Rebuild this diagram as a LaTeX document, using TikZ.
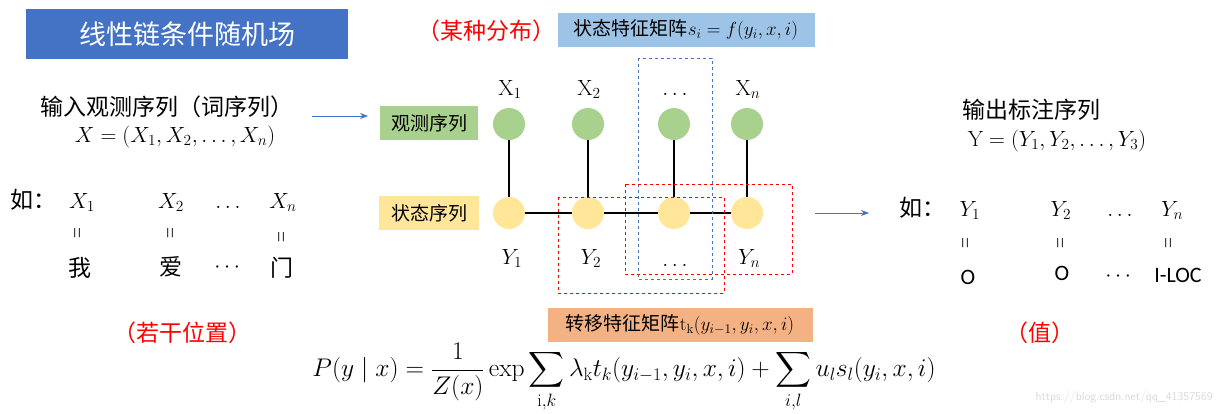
\RequirePackage{fix-cm}
\documentclass[tikz,border=0pt]{standalone}
\usepackage{fontspec}
\usepackage{amsmath}
\newfontfamily\cjk{Noto Sans CJK SC}
\newfontfamily\cali{Carlito}
\usetikzlibrary{arrows.meta}
\definecolor{tblue}{HTML}{4472C4}
\definecolor{lblue}{HTML}{9DC3E6}
\definecolor{lgreen}{HTML}{A9D18E}
\definecolor{lyellow}{HTML}{FFE699}
\definecolor{lorange}{HTML}{F4B183}
\definecolor{wm}{HTML}{D9D9D9}
\newcommand{\veq}{\scalebox{0.75}[1.3]{$=$}}
\tikzset{
  cjkbig/.style={font=\cjk\fontsize{23}{27}\selectfont, inner sep=0pt},
  cjkmid/.style={font=\cjk\fontsize{19}{22}\selectfont, inner sep=0pt},
  redlab/.style={font=\cjk\fontsize{23}{26}\selectfont, text=red, inner sep=0pt},
  mathbig/.style={font=\fontsize{22}{26}\selectfont, inner sep=0pt},
  eqrot/.style={font=\fontsize{20}{24}\selectfont, rotate=90, inner sep=0pt},
  obs/.style={circle, fill=lgreen, minimum size=32pt, inner sep=0pt},
  sta/.style={circle, fill=lyellow, minimum size=32pt, inner sep=0pt},
  edge/.style={line width=1.6pt, black},
  bdash/.style={draw=tblue, dashed, line width=0.8pt},
  rdash/.style={draw=red, dashed, line width=0.8pt},
  barrow/.style={draw=tblue, line width=0.8pt, -{Stealth[length=8pt,width=6pt]}},
  tagbox/.style={inner sep=0pt, minimum height=34pt},
}
\begin{document}
\begin{tikzpicture}[x=1pt,y=-1pt]
\useasboundingbox (0,0) rectangle (1220,413);
% title
\node[fill=tblue, text=white, font=\cjk\fontsize{27}{30}\selectfont, minimum width=322pt, minimum height=50pt, inner sep=0pt] (title) at (187,34) {线性链条件随机场};
% left panel
\node[cjkbig] (inobs) at (167,107) {输入观测序列（词序列）};
\node[mathbig] (inX) at (175,137) {$X=(X_1,X_2,\ldots,X_n)$};
\coordinate (a1s) at (312,116);
\coordinate (a1e) at (368,116);
\draw[barrow] (a1s) -- (a1e);
\node[cjkbig, anchor=base west] (ru1) at (10,208) {如：};
\node[mathbig, anchor=base] (lx1) at (82,208) {$X_1$};
\node[mathbig, anchor=base] (lx2) at (171,208) {$X_2$};
\node[mathbig, anchor=base] (lxd) at (228,208) {$\ldots$};
\node[mathbig, anchor=base] (lxn) at (283,208) {$X_n$};
\node[eqrot] (le1) at (79,233) {\veq};
\node[eqrot] (le2) at (172,233) {\veq};
\node[eqrot] (le3) at (283,237) {\veq};
\node[cjkbig] (w1) at (80,268) {我};
\node[cjkbig] (w2) at (171,267) {爱};
\node[mathbig] (wd) at (229,268) {$\cdots$};
\node[cjkbig] (w3) at (282,268) {门};
\node[redlab] (pos) at (182,333) {（若干位置）};
% top labels
\node[redlab] (dist) at (486,31) {（某种分布）};
\node[tagbox, fill=lblue, minimum width=257pt, font=\cjk\fontsize{19}{22}\selectfont] (sbox) at (686,30) {状态特征矩阵$s_i = f(y_i,x,i)$};
% tag boxes
\node[tagbox, fill=lgreen, minimum width=98pt, cjkmid] (obsbox) at (429,123) {观测序列};
\node[tagbox, fill=lyellow, minimum width=100pt, cjkmid] (stabox) at (429,213) {状态序列};
% graph
\node[obs] (o1) at (509,124) {};
\node[obs] (o2) at (588,124) {};
\node[obs] (o3) at (674,124) {};
\node[obs] (o4) at (747,124) {};
\node[sta] (s1) at (509,213) {};
\node[sta] (s2) at (588,213) {};
\node[sta] (s3) at (674,213) {};
\node[sta] (s4) at (747,213) {};
\draw[edge] (o1) -- (s1);
\draw[edge] (o2) -- (s2);
\draw[edge] (o3) -- (s3);
\draw[edge] (o4) -- (s4);
\draw[edge] (s1) -- (s2);
\draw[edge] (s2) -- (s3);
\draw[edge] (s3) -- (s4);
\node[mathbig, anchor=base] (gx1) at (510,95) {$\mathrm{X}_1$};
\node[mathbig, anchor=base] (gx2) at (589,95) {$\mathrm{X}_2$};
\node[mathbig, anchor=base] (gxd) at (675,95) {$\ldots$};
\node[mathbig, anchor=base] (gxn) at (748,95) {$\mathrm{X}_n$};
\node[mathbig, anchor=base] (gy1) at (512,264) {$Y_1$};
\node[mathbig, anchor=base] (gy2) at (591,264) {$Y_2$};
\node[mathbig, anchor=base] (gyd) at (675,266) {$\ldots$};
\node[mathbig, anchor=base] (gyn) at (749,264) {$Y_n$};
\draw[bdash] (638,58) rectangle (712,279);
\draw[rdash] (558,197) rectangle (724,293);
\draw[rdash] (625,184) rectangle (792,274);
\coordinate (a2s) at (815,213);
\coordinate (a2e) at (869,213);
\draw[barrow] (a2s) -- (a2e);
% right panel
\node[cjkbig] (outl) at (1031,110) {输出标注序列};
\node[mathbig] (outY) at (1057,141) {$\mathrm{Y}=(Y_1,Y_2,\ldots,Y_3)$};
\node[cjkbig, anchor=base west] (ru2) at (899,216) {如：};
\node[mathbig, anchor=base] (ry1) at (970,216) {$Y_1$};
\node[mathbig, anchor=base] (ry2) at (1061,216) {$Y_2$};
\node[mathbig, anchor=base] (ryd) at (1120,216) {$\ldots$};
\node[mathbig, anchor=base] (ryn) at (1172,216) {$Y_n$};
\node[eqrot] (re1) at (967,243) {\veq};
\node[eqrot] (re2) at (1062,243) {\veq};
\node[eqrot] (re3) at (1170,243) {\veq};
\node[font=\cali\fontsize{22}{26}\selectfont, inner sep=0pt] (t1) at (968,277) {O};
\node[font=\cali\fontsize{22}{26}\selectfont, inner sep=0pt] (t2) at (1062,273) {O};
\node[mathbig] (td) at (1120,277) {$\cdots$};
\node[font=\cali\fontsize{22}{26}\selectfont, inner sep=0pt] (t3) at (1178,275) {I-LOC};
\node[redlab] (val) at (1040,333) {（值）};
% transition box and formula
\node[tagbox, fill=lorange, minimum width=265pt, font=\cjk\fontsize{19}{22}\selectfont] (tbox) at (680,325) {转移特征矩阵$\mathrm{t_k}(y_{i-1},y_i,x,i)$};
\node[font=\fontsize{25.5}{30}\selectfont, inner sep=0pt, anchor=south] (formula) at (624,413) {$\displaystyle P(y\mid x) = \frac{1}{Z(x)}\exp\sum_{\mathrm{i},k}\lambda_{\mathrm{k}}t_k(y_{i-1},y_i,x,i)+\sum_{i,l}u_l s_l(y_i,x,i)$};
\node[font=\sffamily\fontsize{12}{14}\selectfont, text=wm, inner sep=0pt, anchor=east] (wmk) at (1213,397) {https://blog.csdn.net/qq\_41357569};
\end{tikzpicture}
\end{document}
